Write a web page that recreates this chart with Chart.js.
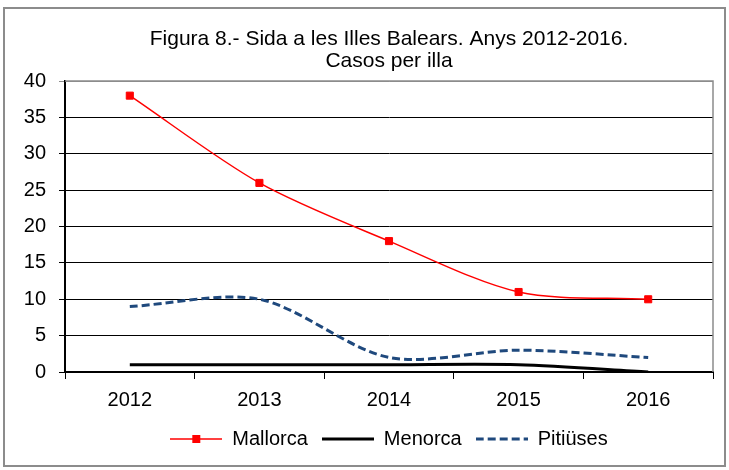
<!DOCTYPE html>
<html>
<head>
<meta charset="utf-8">
<script src="https://cdn.jsdelivr.net/npm/chart.js@4"></script>
<style>
  html, body { margin: 0; padding: 0; background: #fff; }
  #wrap { width: 729px; height: 470px; position: relative; }
</style>
</head>
<body>
<div id="wrap"><canvas id="chart" width="729" height="470"></canvas></div>
<script>
const years = ["2012", "2013", "2014", "2015", "2016"];
const mallorca = [38, 26, 18, 11, 10];
const menorca = [1, 1, 1, 1, 0];
const pitiuses = [9, 10, 2, 3, 2];
const titleLines = ["Figura 8.- Sida a les Illes Balears. Anys 2012-2016.", "Casos per illa"];

const FONT = "'Liberation Sans', Arial, sans-serif";
const RED = "#ff0000";
const BLUE = "#1f497d";

// little legend symbols (line + marker), drawn once
function legendSymbol(kind) {
  const c = document.createElement("canvas");
  c.width = 52; c.height = 12;
  const g = c.getContext("2d");
  g.beginPath();
  g.moveTo(0, 6); g.lineTo(52, 6);
  if (kind === "mallorca") {
    g.strokeStyle = RED; g.lineWidth = 1.5; g.stroke();
    g.fillStyle = RED; g.fillRect(22, 2, 8, 8);
  } else if (kind === "menorca") {
    g.strokeStyle = "#000"; g.lineWidth = 3; g.stroke();
  } else {
    g.strokeStyle = BLUE; g.lineWidth = 3; g.setLineDash([8, 4]); g.stroke();
  }
  return c;
}
const symbols = [legendSymbol("mallorca"), legendSymbol("menorca"), legendSymbol("pitiuses")];

const framePlugin = {
  id: "frame",
  beforeDraw(chart) {
    const ctx = chart.ctx;
    ctx.save();
    ctx.strokeStyle = "#8c8c8c";
    ctx.lineWidth = 2;
    ctx.strokeRect(4, 8, chart.width - 8, chart.height - 12);
    ctx.restore();
  },
  afterDraw(chart) {
    const a = chart.chartArea, ctx = chart.ctx;
    ctx.save();
    ctx.strokeStyle = "#8c8c8c";
    ctx.lineWidth = 1.5;
    ctx.beginPath();
    ctx.moveTo(a.left, a.top); ctx.lineTo(a.right, a.top); ctx.lineTo(a.right, a.bottom);
    ctx.stroke();
    ctx.restore();
  }
};

new Chart(document.getElementById("chart"), {
  type: "line",
  data: {
    labels: years,
    datasets: [
      {
        label: "Mallorca",
        data: mallorca,
        borderColor: RED,
        backgroundColor: RED,
        borderWidth: 1.5,
        pointStyle: "rect",
        pointRadius: 5,
        pointBorderWidth: 1,
        tension: 0.3
      },
      {
        label: "Menorca",
        data: menorca,
        borderColor: "#000",
        borderWidth: 3,
        pointRadius: 0,
        tension: 0.3
      },
      {
        label: "Pitiüses",
        data: pitiuses,
        borderColor: BLUE,
        borderWidth: 3,
        borderDash: [8, 4],
        pointRadius: 0,
        tension: 0.3
      }
    ]
  },
  options: {
    responsive: false,
    animation: false,
    layout: { padding: { left: 8, right: 16, top: 8, bottom: 11 } },
    scales: {
      x: {
        offset: true,
        grid: { offset: true, drawOnChartArea: false, color: "#000", lineWidth: 1, tickLength: 7 },
        border: { color: "#000", width: 2 },
        ticks: { color: "#000", font: { family: FONT, size: 20 }, padding: 9 },
        afterFit(s) { s.height = 43; }
      },
      y: {
        min: 0,
        max: 40,
        ticks: { stepSize: 5, color: "#000", font: { family: FONT, size: 20 }, padding: 13 },
        grid: {
          color: ctx => ctx.tick && ctx.tick.value === 40 ? "#8c8c8c" : "#000",
          lineWidth: 1,
          tickLength: 6
        },
        border: { color: "#000", width: 2 },
        afterFit(s) { s.width = 57; }
      }
    },
    plugins: {
      title: {
        display: true,
        fullSize: false,
        text: titleLines,
        color: "#000",
        font: { family: FONT, size: 21, weight: "normal", lineHeight: 1.05 },
        padding: { top: 20, bottom: 9 }
      },
      legend: {
        position: "bottom",
        fullSize: false,
        align: "center",
        labels: {
          usePointStyle: true,
          pointStyleWidth: 52,
          color: "#000",
          font: { family: FONT, size: 20 },
          padding: 14,
          generateLabels(chart) {
            return chart.data.datasets.map((ds, i) => ({
              text: ds.label,
              pointStyle: symbols[i],
              datasetIndex: i,
              fontColor: "#000",
              lineWidth: 0,
              strokeStyle: "transparent",
              fillStyle: "transparent"
            }));
          }
        }
      },
      tooltip: { enabled: false }
    }
  },
  plugins: [framePlugin]
});
</script>
</body>
</html>
